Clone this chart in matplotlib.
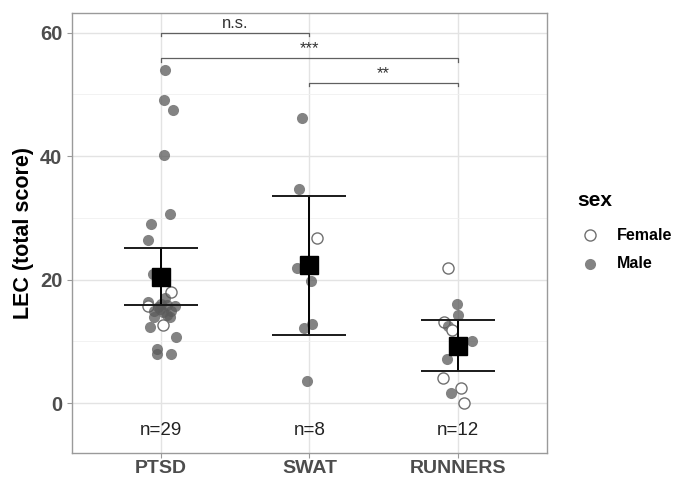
import matplotlib.pyplot as plt
import numpy as np

plt.rcParams['font.family'] = ['Liberation Sans', 'DejaVu Sans']

groups = ["PTSD", "SWAT", "RUNNERS"]
n_labels = ["n=29", "n=8", "n=12"]

# LEC scores, with sex and horizontal jitter (category units)
ptsd_vals = [53.9, 49.1, 47.5, 40.2, 30.6, 29.0, 26.5, 20.9, 18.0, 17.0, 16.4, 15.7,
             15.6, 15.9, 15.8, 15.0, 14.8, 15.0, 14.0, 13.9, 12.6, 12.3, 10.7, 8.7,
             8.0, 8.0, 16.0, 15.2, 14.2]
ptsd_sex = ["M", "M", "M", "M", "M", "M", "M", "M", "F", "M", "M", "F",
            "M", "M", "M", "M", "M", "M", "M", "M", "F", "M", "M", "M",
            "M", "M", "M", "M", "M"]
ptsd_jit = [0.03, 0.02, 0.08, 0.02, 0.06, -0.07, -0.085, -0.055, 0.07, 0.03, -0.085, -0.085,
            -0.02, 0.04, 0.095, -0.05, 0.015, 0.07, -0.05, 0.06, 0.015, -0.075, 0.10, -0.03,
            -0.03, 0.07, 0.0, -0.01, 0.04]

swat_vals = [46.1, 34.7, 26.8, 21.9, 19.8, 12.8, 12.1, 3.6]
swat_sex = ["M", "M", "F", "M", "M", "M", "M", "M"]
swat_jit = [-0.05, -0.067, 0.052, -0.085, 0.011, 0.015, -0.034, -0.015]

run_vals = [21.9, 16.0, 14.3, 13.1, 12.5, 11.8, 10.0, 7.2, 4.0, 1.6, 2.5, 0.0]
run_sex = ["F", "M", "M", "F", "M", "F", "M", "M", "F", "M", "F", "F"]
run_jit = [-0.067, -0.005, 0.0, -0.094, -0.065, -0.038, 0.096, -0.072, -0.099, -0.045, 0.022, 0.045]

means = [20.5, 22.4, 9.2]
ci_low = [15.9, 11.0, 5.2]
ci_high = [25.2, 33.6, 13.5]

# significance brackets: (from group, to group, height, label)
brackets = [(1, 2, 60.0, "n.s."), (1, 3, 55.9, "***"), (2, 3, 51.9, "**")]

fig = plt.figure(figsize=(6.86, 4.78), dpi=100)
ax = fig.add_axes([0.105, 0.052, 0.692, 0.921])

ax.set_xlim(0.4, 3.6)
ax.set_ylim(-8.1, 63.2)
ax.set_yticks([0, 20, 40, 60])
ax.set_yticks([10, 30, 50], minor=True)
ax.set_xticks([1, 2, 3])
ax.set_xticklabels(groups)
ax.grid(True, which='major', color='#e3e3e3', lw=1.0)
ax.grid(True, which='minor', axis='y', color='#f0f0f0', lw=0.6)
ax.set_axisbelow(True)
for s in ax.spines.values():
    s.set_color('#9a9a9a')
    s.set_linewidth(1.0)
ax.tick_params(which='major', length=3.5, color='#9a9a9a', labelsize=14.5, labelcolor='#4d4d4d')
ax.tick_params(axis='x', pad=1.5, labelsize=14)
ax.tick_params(which='minor', length=0)
for lab in ax.get_xticklabels() + ax.get_yticklabels():
    lab.set_fontweight('bold')
ax.set_ylabel("LEC (total score)", fontsize=15.5, fontweight='bold', labelpad=4)

for i, (vals, sex, jit) in enumerate([(ptsd_vals, ptsd_sex, ptsd_jit),
                                      (swat_vals, swat_sex, swat_jit),
                                      (run_vals, run_sex, run_jit)]):
    xc = i + 1
    for v, s, j in zip(vals, sex, jit):
        if s == "M":
            ax.plot(xc + j, v, 'o', ms=8, mfc='#5a5a5a', mec='none', alpha=0.75, zorder=3)
        else:
            ax.plot(xc + j, v, 'o', ms=8, mfc='white', mec='#707070', mew=1.0, zorder=3)

x = np.arange(1, 4)
ax.errorbar(x, means, yerr=[np.array(means) - np.array(ci_low), np.array(ci_high) - np.array(means)],
            fmt='none', ecolor='black', elinewidth=1.4, capsize=0, zorder=4)
for xi, lo, hi in zip(x, ci_low, ci_high):
    ax.hlines([lo, hi], xi - 0.25, xi + 0.25, color='#1a1a1a', lw=1.4, zorder=4)
ax.plot(x, means, 's', ms=12.5, color='black', zorder=5)

for a, b, h, lab in brackets:
    ax.plot([a, a, b, b], [h - 0.6, h, h, h - 0.6], color='#606060', lw=0.9, zorder=4)
    ax.text((a + b) / 2, h + 0.3, lab, ha='center', va='bottom', fontsize=12, color='#333333')

for xi, lab in zip(x, n_labels):
    ax.text(xi, -4.5, lab, ha='center', va='center', fontsize=13.5, color='#222222')

# legend
fig.text(577 / 686, 1 - 201 / 478, "sex", fontsize=15, fontweight='bold', va='center', ha='left')
leg_ax = fig.add_axes([0, 0, 1, 1], facecolor='none')
leg_ax.set_xlim(0, 686)
leg_ax.set_ylim(478, 0)
leg_ax.axis('off')
leg_ax.plot(590, 235, 'o', ms=8, mfc='white', mec='#707070', mew=1.0)
leg_ax.plot(590, 264, 'o', ms=8, mfc='#5a5a5a', mec='none', alpha=0.75)
leg_ax.text(617, 235, "Female", fontsize=11.5, fontweight='bold', va='center')
leg_ax.text(617, 264, "Male", fontsize=11.5, fontweight='bold', va='center')

fig.savefig("out.png", dpi=100)
